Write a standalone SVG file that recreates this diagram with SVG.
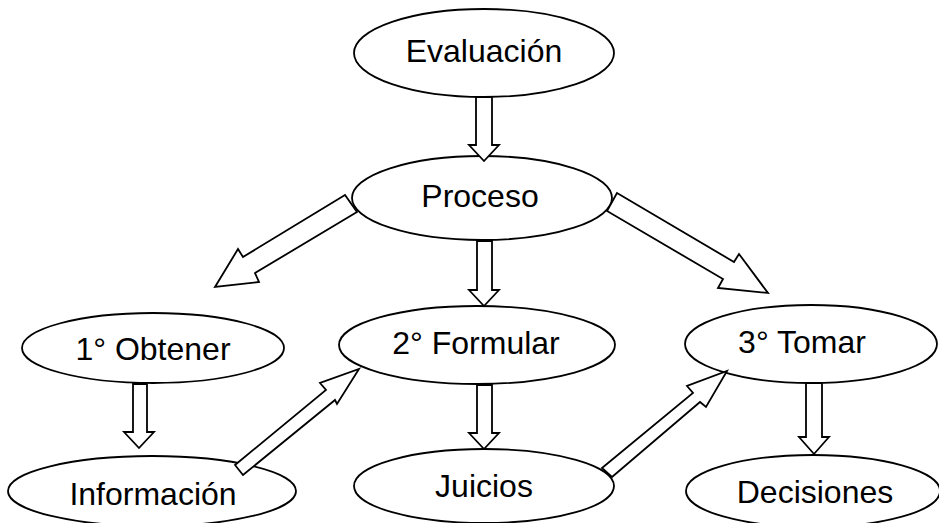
<svg xmlns="http://www.w3.org/2000/svg" width="939" height="523" viewBox="0 0 939 523">
<style>
.n ellipse{fill:#fff;stroke:#000;stroke-width:1.8}
.n text{font-family:"Liberation Sans",Arial,sans-serif;font-size:32px;fill:#000;text-anchor:middle}
.c polygon{fill:#fff;stroke:#000;stroke-width:1.8;stroke-linejoin:miter}
</style>
<rect width="939" height="523" fill="#fff"/>
<g id="evaluacion" class="n"><ellipse cx="484" cy="53" rx="130" ry="44"/><text x="484" y="62">Evaluación</text></g>
<g id="proceso" class="n"><ellipse cx="482" cy="198" rx="130" ry="42"/><text x="480" y="207">Proceso</text></g>
<g id="obtener" class="n"><ellipse cx="153" cy="348" rx="131" ry="35"/><text x="153" y="360">1° Obtener</text></g>
<g id="formular" class="n"><ellipse cx="477" cy="345" rx="138" ry="39"/><text x="476" y="354">2° Formular</text></g>
<g id="tomar" class="n"><ellipse cx="811" cy="344" rx="126" ry="39"/><text x="802" y="353">3° Tomar</text></g>
<g id="informacion" class="n"><ellipse cx="152" cy="491" rx="144" ry="35"/><text x="153" y="505">Información</text></g>
<g id="juicios" class="n"><ellipse cx="484" cy="486" rx="130" ry="37"/><text x="484" y="497">Juicios</text></g>
<g id="decisiones" class="n"><ellipse cx="813" cy="491" rx="127" ry="36"/><text x="815" y="503">Decisiones</text></g>
<g id="connectors" class="c">
<polygon points="476,97 492,97 492,145 499,145 484,161 469,145 476,145"/>
<polygon points="477,241 492,241 492,290 499,290 484,306 469,290 477,290"/>
<polygon points="477,385 492,385 492,433 499,433 484,449 469,433 477,433"/>
<polygon points="133,384 147,384 147,432 154,432 139,448 124,432 133,432"/>
<polygon points="806,383 822,383 822,437 829,437 814,454 799,437 806,437"/>
<polygon points="345,195 243,257 238,249 215,287 259,282 255,273 357,212"/>
<polygon points="617,193 734,262 739,254 768,293 718,288 723,279 607,211"/>
<polygon points="235,465 326,390 320,383 359,369 337,404 335,400 243,475"/>
<polygon points="602,468 693,393 687,386 727,371 706,407 700,402 612,477"/>
</g>
</svg>
